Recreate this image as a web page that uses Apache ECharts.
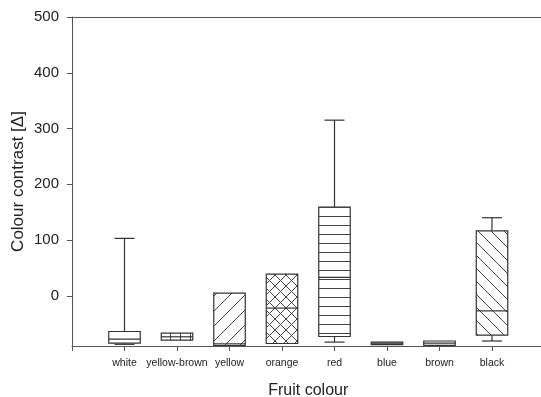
<!DOCTYPE html>
<html>
<head>
<meta charset="utf-8">
<script src="https://cdn.jsdelivr.net/npm/echarts@6/dist/echarts.min.js"></script>
<style>
html,body{margin:0;padding:0;background:#fff;}
#chart{width:541px;height:397px;}
</style>
</head>
<body>
<div id="chart"></div>
<script>
const categories = ['white','yellow-brown','yellow','orange','red','blue','brown','black'];
const whiskerLow  = [-87, -79.5, -89, -85.5, -83, -87.5, -89, -81];
const q1          = [-85, -79.5, -89, -85.5, -73, -87.5, -89, -70.5];
const median      = [-77.5, -73.5, -86, -22, 33, -85, -85, -27];
const q3          = [-64, -67, 5, 39, 159, -83, -81, 116.5];
const whiskerHigh = [103, -67, 5, 39, 315, -83, -81, 140];
const patterns    = ['none','vertical','slash','cross','horizontal','none','none','backslash'];
const yTicks = [0, 100, 200, 300, 400, 500];

const LINE = '#333';
function makeTile(size, draw) {
  const c = document.createElement('canvas');
  c.width = size; c.height = size;
  const ctx = c.getContext('2d');
  ctx.fillStyle = '#fff';
  ctx.fillRect(0, 0, size, size);
  ctx.strokeStyle = '#444';
  ctx.lineWidth = 1;
  ctx.beginPath();
  draw(ctx, size);
  ctx.stroke();
  return c;
}
function slash(ctx, s) {
  ctx.moveTo(-1, s + 1); ctx.lineTo(s + 1, -1);
  ctx.moveTo(-1, 1); ctx.lineTo(1, -1);
  ctx.moveTo(s - 1, s + 1); ctx.lineTo(s + 1, s - 1);
}
function backslash(ctx, s) {
  ctx.moveTo(-1, -1); ctx.lineTo(s + 1, s + 1);
  ctx.moveTo(s - 1, -1); ctx.lineTo(s + 1, 1);
  ctx.moveTo(-1, s - 1); ctx.lineTo(1, s + 1);
}
const tiles = {
  none: null,
  vertical: makeTile(10, (ctx, s) => { ctx.moveTo(0.5, 0); ctx.lineTo(0.5, s); }),
  horizontal: makeTile(9, (ctx, s) => { ctx.moveTo(0, 0.5); ctx.lineTo(s, 0.5); }),
  slash: makeTile(15, slash),
  backslash: makeTile(13, backslash),
  cross: makeTile(11, (ctx, s) => { slash(ctx, s); backslash(ctx, s); })
};

const boxData = categories.map((c, i) => [i + 1, whiskerLow[i], q1[i], median[i], q3[i], whiskerHigh[i], i]);

function renderItem(params, api) {
  const x = api.value(0);
  const idx = api.value(6);
  const pLow = api.coord([x, api.value(1)]);
  const pQ1 = api.coord([x, api.value(2)]);
  const pMed = api.coord([x, api.value(3)]);
  const pQ3 = api.coord([x, api.value(4)]);
  const pHigh = api.coord([x, api.value(5)]);
  const bw = api.size([0.6, 0])[0];
  const cap = 10;
  const cx = pQ1[0];
  const children = [];
  const ls = { stroke: LINE, lineWidth: 1.2, fill: null };
  if (api.value(5) > api.value(4)) {
    children.push({ type: 'line', shape: { x1: cx, y1: pHigh[1], x2: cx, y2: pQ3[1] }, style: ls });
    children.push({ type: 'line', shape: { x1: cx - cap, y1: pHigh[1], x2: cx + cap, y2: pHigh[1] }, style: ls });
  }
  if (api.value(1) < api.value(2)) {
    children.push({ type: 'line', shape: { x1: cx, y1: pLow[1], x2: cx, y2: pQ1[1] }, style: ls });
    children.push({ type: 'line', shape: { x1: cx - cap, y1: pLow[1], x2: cx + cap, y2: pLow[1] }, style: ls });
  }
  const tile = tiles[patterns[idx]];
  children.push({
    type: 'rect',
    shape: { x: cx - bw / 2, y: pQ3[1], width: bw, height: pQ1[1] - pQ3[1] },
    style: { fill: tile ? { image: tile, repeat: 'repeat' } : '#fff', stroke: LINE, lineWidth: 1.2 }
  });
  children.push({ type: 'line', shape: { x1: cx - bw / 2, y1: pMed[1], x2: cx + bw / 2, y2: pMed[1] }, style: ls });
  return { type: 'group', children: children };
}

const FONT = 'Liberation Sans, Arial, Helvetica, sans-serif';
const chart = echarts.init(document.getElementById('chart'), null, { renderer: 'canvas' });
chart.setOption({
  animation: false,
  backgroundColor: '#fff',
  grid: { left: 72, top: 17, width: 472.5, height: 329, outerBoundsMode: 'none', containLabel: false },
  xAxis: [{
    type: 'value', min: 0, max: 9, interval: 1,
    name: 'Fruit colour', nameLocation: 'middle', nameGap: 37, nameMoveOverlap: false,
    nameTextStyle: { fontFamily: FONT, fontSize: 16, color: '#222' },
    axisLine: { show: true, onZero: false, lineStyle: { color: '#555', width: 1 } },
    axisTick: { show: true, length: 5, lineStyle: { color: '#555' } },
    axisLabel: {
      margin: 12, fontFamily: FONT, fontSize: 10.5, color: '#222',
      formatter: v => categories[v - 1] || ''
    },
    splitLine: { show: false }
  }, {
    type: 'value', min: 0, max: 9, position: 'top',
    axisLine: { show: true, onZero: false, lineStyle: { color: '#555', width: 1 } },
    axisTick: { show: false }, axisLabel: { show: false }, splitLine: { show: false }
  }],
  yAxis: {
    type: 'value', min: -90, max: 500,
    name: 'Colour contrast [Δ]', nameLocation: 'middle', nameGap: 45, nameMoveOverlap: false,
    nameTextStyle: { fontFamily: FONT, fontSize: 17, color: '#222' },
    axisLine: { show: true, onZero: false, lineStyle: { color: '#555', width: 1 } },
    axisTick: { show: true, length: 5, customValues: yTicks, lineStyle: { color: '#555' } },
    axisLabel: { customValues: yTicks, margin: 13, fontFamily: FONT, fontSize: 15, color: '#222' },
    splitLine: { show: false }
  },
  series: [{
    type: 'custom',
    renderItem: renderItem,
    data: boxData,
    encode: { x: 0, y: [1, 2, 3, 4, 5] },
    clip: false
  }]
});
</script>
</body>
</html>
